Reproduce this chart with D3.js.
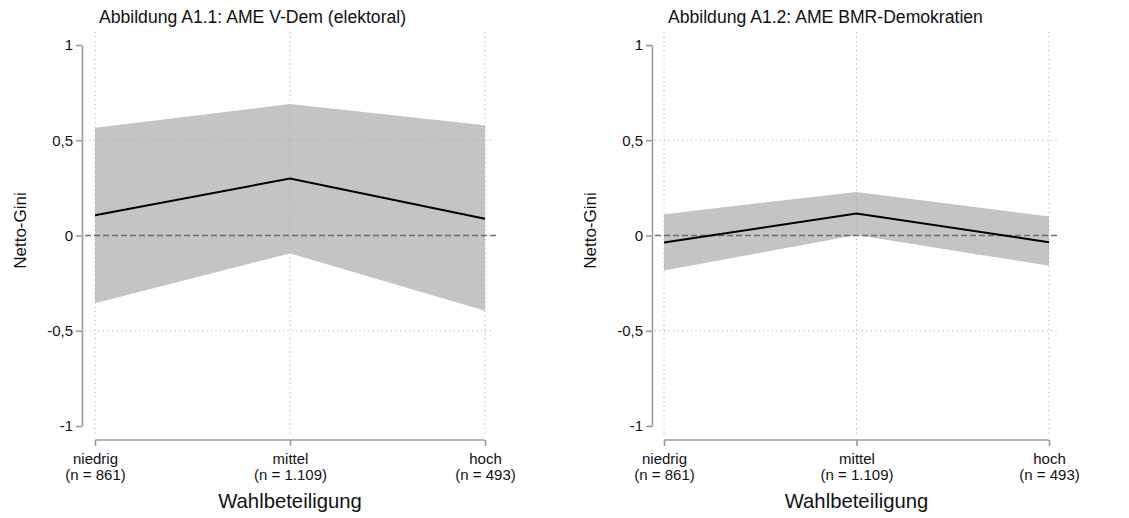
<!DOCTYPE html>
<html>
<head>
<meta charset="utf-8">
<script src="https://cdn.jsdelivr.net/npm/d3@7"></script>
<style>
  html, body { margin: 0; padding: 0; background: #fff; }
  svg { display: block; font-family: "Liberation Sans", Arial, sans-serif; }
</style>
</head>
<body>
<svg id="chart" width="1129" height="518"></svg>
<script>
// ---- data ----
const categories = ["niedrig", "mittel", "hoch"];
const categoryN = ["(n = 861)", "(n = 1.109)", "(n = 493)"];
const yTicks = [-1, -0.5, 0, 0.5, 1];
const yTickLabels = ["-1", "-0,5", "0", "0,5", "1"];

const titles = ["Abbildung A1.1: AME V-Dem (elektoral)", "Abbildung A1.2: AME BMR-Demokratien"];

const vdemEstimate = [0.106, 0.299, 0.088];
const vdemUpper    = [0.566, 0.690, 0.579];
const vdemLower    = [-0.355, -0.094, -0.395];

const bmrEstimate = [-0.037, 0.115, -0.035];
const bmrUpper    = [0.112, 0.229, 0.100];
const bmrLower    = [-0.184, 0.002, -0.159];

const yTitle = "Netto-Gini";
const xTitle = "Wahlbeteiligung";

// ---- layout ----
const panels = [
  { title: titles[0], est: vdemEstimate, lo: vdemLower, hi: vdemUpper,
    axisX: 82, x0: 95, x1: 485, gridEnd: 493, zeroEnd: 498, yTitleX: 20 },
  { title: titles[1], est: bmrEstimate, lo: bmrLower, hi: bmrUpper,
    axisX: 652, x0: 664, x1: 1049, gridEnd: 1057, zeroEnd: 1060, yTitleX: 590 }
];

const svg = d3.select("#chart");
const yTop = 45, yBot = 426;
const xAxisY = 440;

panels.forEach(p => {
  const g = svg.append("g");
  const x = d3.scalePoint().domain(categories).range([p.x0, p.x1]);
  const y = d3.scaleLinear().domain([-1, 1]).range([yBot, yTop]);

  // CI band
  const area = d3.area()
    .x((d, i) => x(categories[i]))
    .y0((d, i) => y(p.lo[i]))
    .y1((d, i) => y(p.hi[i]));
  g.append("path").datum(p.est).attr("d", area).attr("fill", "#c4c4c4");

  // vertical dotted grid
  g.selectAll(".vgrid").data(categories).enter()
    .append("line")
    .attr("x1", d => x(d)).attr("x2", d => x(d))
    .attr("y1", 32).attr("y2", 435)
    .attr("stroke", "#a8a8a8").attr("stroke-width", 1)
    .attr("stroke-dasharray", "1,3.5");

  // horizontal dotted grid
  g.selectAll(".hgrid").data([0.5, -0.5]).enter()
    .append("line")
    .attr("x1", p.axisX + 3).attr("x2", p.gridEnd)
    .attr("y1", d => y(d)).attr("y2", d => y(d))
    .attr("stroke", "#a8a8a8").attr("stroke-width", 1)
    .attr("stroke-dasharray", "1,3.5");

  // zero reference line (dashed)
  g.append("line")
    .attr("x1", p.axisX + 3).attr("x2", p.zeroEnd)
    .attr("y1", y(0)).attr("y2", y(0))
    .attr("stroke", "#6e6e6e").attr("stroke-width", 1.5)
    .attr("stroke-dasharray", "6,3");

  // estimate line
  const line = d3.line().x((d, i) => x(categories[i])).y(d => y(d));
  g.append("path").datum(p.est).attr("d", line)
    .attr("fill", "none").attr("stroke", "#000").attr("stroke-width", 2);

  // y axis
  const yAxis = d3.axisLeft(y).tickValues(yTicks)
    .tickFormat(d => yTickLabels[yTicks.indexOf(d)])
    .tickSize(6).tickSizeOuter(0).tickPadding(3);
  const ya = g.append("g").attr("transform", `translate(${p.axisX},0)`).call(yAxis);
  ya.select(".domain").attr("stroke", "#9a9a9a").attr("stroke-width", 1.6);
  ya.selectAll(".tick line").attr("stroke", "#9a9a9a").attr("stroke-width", 1.6);
  ya.selectAll(".tick text").attr("font-size", 15).attr("fill", "#111")
    .attr("font-family", "Liberation Sans, Arial, sans-serif");

  // x axis
  const xAxis = d3.axisBottom(x).tickSize(6).tickSizeOuter(0).tickFormat("");
  const xa = g.append("g").attr("transform", `translate(0,${xAxisY})`).call(xAxis);
  xa.select(".domain").attr("stroke", "#9a9a9a").attr("stroke-width", 1.6)
    .attr("d", `M${p.x0},0H${p.x1}`);
  xa.selectAll(".tick line").attr("stroke", "#9a9a9a").attr("stroke-width", 1.6);
  xa.selectAll(".tick").each(function(d, i) {
    const t = d3.select(this).append("text")
      .attr("text-anchor", "middle").attr("font-size", 15).attr("fill", "#111")
      .attr("font-family", "Liberation Sans, Arial, sans-serif");
    t.append("tspan").attr("x", 0).attr("y", 24).text(categories[i]);
    t.append("tspan").attr("x", 0).attr("y", 40).text(categoryN[i]);
  });

  // title
  g.append("text").attr("x", p.x0 + 4).attr("y", 23)
    .attr("font-size", 17.6).attr("fill", "#111").text(p.title);

  // y title
  g.append("text")
    .attr("transform", `translate(${p.yTitleX + 6},${y(0) - 5}) rotate(-90)`)
    .attr("text-anchor", "middle").attr("font-size", 17).attr("fill", "#111")
    .text(yTitle);

  // x title
  g.append("text").attr("x", x("mittel")).attr("y", 508)
    .attr("text-anchor", "middle").attr("font-size", 20.3).attr("fill", "#111")
    .text(xTitle);
});
</script>
</body>
</html>
